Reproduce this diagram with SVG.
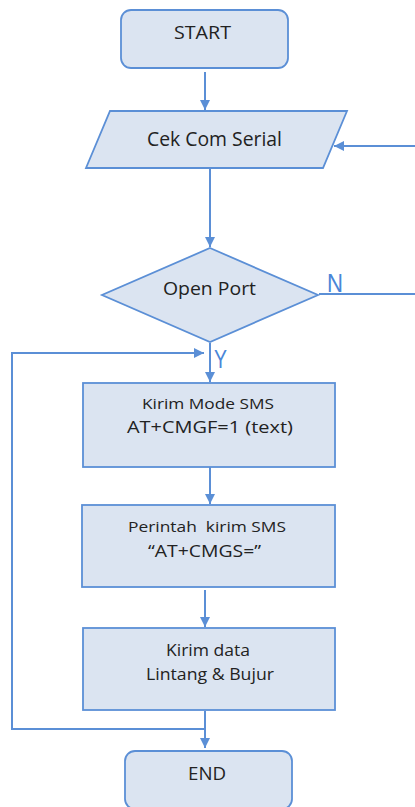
<svg xmlns="http://www.w3.org/2000/svg" width="415" height="807" viewBox="0 0 415 807">
<defs>
<style>
.n{fill:#dbe4f1;stroke:#5b8fd6;stroke-width:1.8}
.t{font-family:"Open Sans","Liberation Sans",sans-serif;fill:#222;text-anchor:middle}
.c{fill:none;stroke:#5b8fd6;stroke-width:2}
.l{font-family:"Liberation Sans",sans-serif;fill:#4a86d8;font-size:25px}
</style>
<marker id="a" viewBox="0 0 10 10" refX="10" refY="5" markerWidth="5" markerHeight="5" orient="auto" markerUnits="strokeWidth">
<path d="M0,0 L10,5 L0,10 z" fill="#5b8fd6"/>
</marker>
</defs>
<rect width="415" height="807" fill="#fff"/>
<g id="connectors">
<line class="c" x1="205" y1="72" x2="205" y2="110" marker-end="url(#a)"/>
<line class="c" x1="415" y1="146" x2="334" y2="146" marker-end="url(#a)"/>
<line class="c" x1="210" y1="169" x2="210" y2="247" marker-end="url(#a)"/>
<polyline class="c" points="319,294 415,294"/>
<line class="c" x1="210" y1="343" x2="210" y2="382" marker-end="url(#a)"/>
<polyline class="c" points="205,729 12,729 12,353 204,353" marker-end="url(#a)"/>
<line class="c" x1="210" y1="467" x2="210" y2="504" marker-end="url(#a)"/>
<line class="c" x1="205" y1="590" x2="205" y2="627" marker-end="url(#a)"/>
<line class="c" x1="205" y1="711" x2="205" y2="748" marker-end="url(#a)"/>
<text class="l" x="327" y="292" textLength="16" lengthAdjust="spacingAndGlyphs">N</text>
<text class="l" x="214" y="368" textLength="13" lengthAdjust="spacingAndGlyphs">Y</text>
</g>
<g id="start">
<rect class="n" x="121" y="10" width="167" height="58" rx="10"/>
<text class="t" x="202.5" y="39" font-size="19" textLength="57" lengthAdjust="spacingAndGlyphs">START</text>
</g>
<g id="cek">
<polygon class="n" points="110,111 347,111 323,168 86,168"/>
<text class="t" x="214.5" y="146" font-size="20" textLength="135" lengthAdjust="spacingAndGlyphs">Cek Com Serial</text>
</g>
<g id="open">
<polygon class="n" points="210,248 318,295 210,342 102,295"/>
<text class="t" x="209.5" y="295" font-size="18" textLength="93" lengthAdjust="spacingAndGlyphs">Open Port</text>
</g>
<g id="mode">
<rect class="n" x="83" y="383" width="252" height="84"/>
<text class="t" x="208" y="409" font-size="14.5" textLength="132" lengthAdjust="spacingAndGlyphs">Kirim Mode SMS</text>
<text class="t" x="210" y="433" font-size="17" textLength="166" lengthAdjust="spacingAndGlyphs">AT+CMGF=1 (text)</text>
</g>
<g id="perintah">
<rect class="n" x="82" y="505" width="253" height="82"/>
<text class="t" x="207" y="532" font-size="15" textLength="158" lengthAdjust="spacingAndGlyphs" xml:space="preserve">Perintah  kirim SMS</text>
<text class="t" x="204.5" y="557" font-size="17" textLength="113" lengthAdjust="spacingAndGlyphs">“AT+CMGS=”</text>
</g>
<g id="kirim">
<rect class="n" x="83" y="628" width="252" height="82"/>
<text class="t" x="208" y="656" font-size="15.5" textLength="84" lengthAdjust="spacingAndGlyphs">Kirim data</text>
<text class="t" x="210" y="680" font-size="15.5" textLength="128" lengthAdjust="spacingAndGlyphs">Lintang &amp; Bujur</text>
</g>
<g id="end">
<rect class="n" x="125" y="751" width="167" height="58" rx="10"/>
<text class="t" x="207" y="780" font-size="18" textLength="38" lengthAdjust="spacingAndGlyphs">END</text>
</g>
</svg>
